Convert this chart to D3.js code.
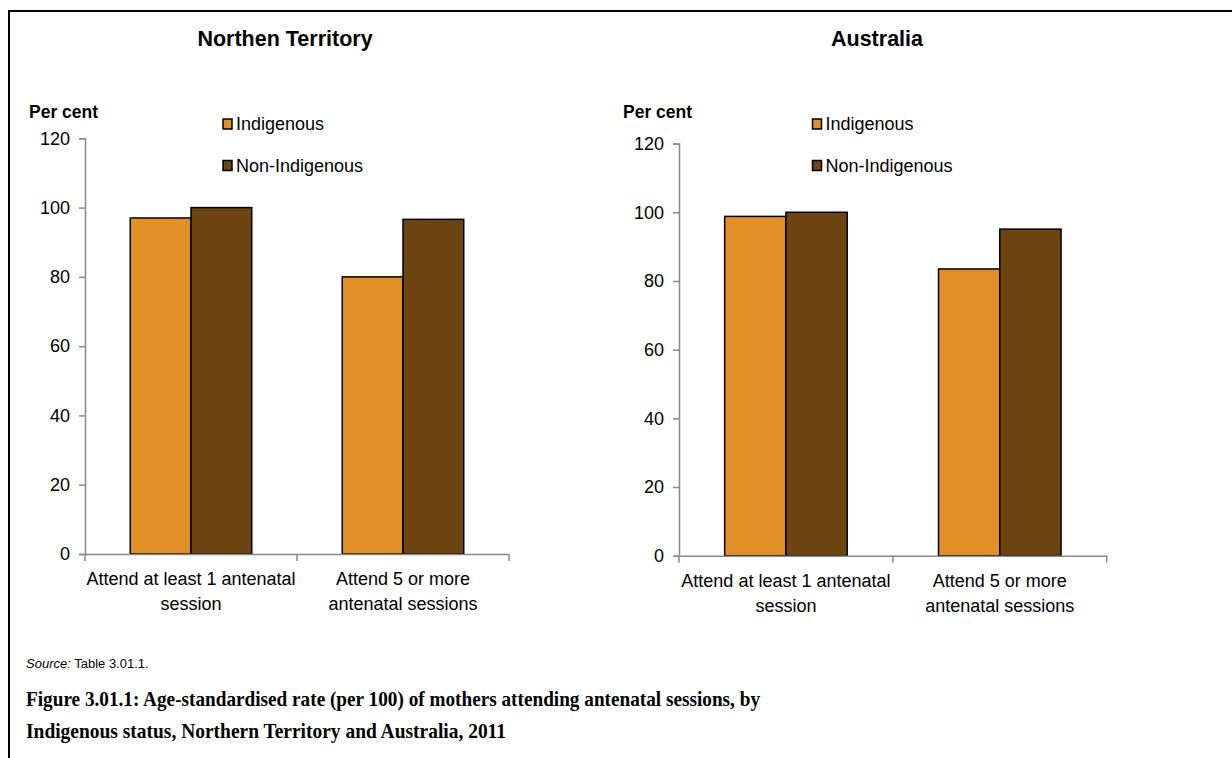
<!DOCTYPE html>
<html>
<head>
<meta charset="utf-8">
<script src="https://cdn.jsdelivr.net/npm/d3@7"></script>
<style>
  html, body { margin: 0; padding: 0; background: #fff; }
  svg { display: block; }
  text { fill: #000; }
</style>
</head>
<body>
<svg id="chart" width="1232" height="758" font-family="'Liberation Sans', Arial, sans-serif"></svg>
<script>
// ---- Data ----
const categories = [["Attend at least 1 antenatal", "session"], ["Attend 5 or more", "antenatal sessions"]];
const categoryKeys = ["Attend at least 1 antenatal session", "Attend 5 or more antenatal sessions"];
const seriesNames = ["Indigenous", "Non-Indigenous"];
const panelTitles = ["Northen Territory", "Australia"];
const ntIndigenous = [97, 80];
const ntNonIndigenous = [100, 96.6];
const ausIndigenous = [98.8, 83.5];
const ausNonIndigenous = [100, 95.1];
const yTicks = [0, 20, 40, 60, 80, 100, 120];
const seriesColors = ["#E18F27", "#6E4511"];

const svg = d3.select("#chart");

// Frame
svg.append("path")
  .attr("d", "M9,760 L9,11 L1240,11")
  .attr("fill", "none").attr("stroke", "#000").attr("stroke-width", 2);

const panels = [
  { title: panelTitles[0], titleX: 285, values: [ntIndigenous, ntNonIndigenous],
    x0: 85, x1: 509, y0: 554, y120: 138.3, perCentX: 29, legendX: 223 },
  { title: panelTitles[1], titleX: 877, values: [ausIndigenous, ausNonIndigenous],
    x0: 679, x1: 1106.7, y0: 555.7, y120: 143.6, perCentX: 623, legendX: 812.5 }
];

panels.forEach(p => {
  const g = svg.append("g");

  g.append("text").attr("x", p.titleX).attr("y", 46)
    .attr("text-anchor", "middle").attr("font-size", 21.5).attr("font-weight", "bold")
    .text(p.title);

  g.append("text").attr("x", p.perCentX).attr("y", 118)
    .attr("font-size", 17.5).attr("font-weight", "bold").text("Per cent");

  const y = d3.scaleLinear().domain([0, 120]).range([p.y0, p.y120]);
  const x = d3.scaleBand().domain(categoryKeys).range([p.x0, p.x1]).paddingInner(0).paddingOuter(0);
  const xs = d3.scaleBand().domain(seriesNames).range([0, x.bandwidth()]).paddingInner(0).paddingOuter(0.745);

  // bars
  seriesNames.forEach((s, si) => {
    g.append("g").selectAll("rect")
      .data(p.values[si])
      .join("rect")
      .attr("x", (d, i) => x(categoryKeys[i]) + xs(s))
      .attr("y", d => y(d))
      .attr("width", xs.bandwidth())
      .attr("height", d => y(0) - y(d))
      .attr("fill", seriesColors[si])
      .attr("stroke", "#000").attr("stroke-width", 1.5);
  });

  // y axis
  const yAxis = d3.axisLeft(y).tickValues(yTicks).tickSize(6).tickPadding(9);
  const ya = g.append("g").attr("transform", `translate(${p.x0},0)`).call(yAxis);
  ya.attr("font-family", null).attr("font-size", null);
  ya.select(".domain").attr("stroke", "#898989").attr("stroke-width", 1.5);
  ya.selectAll(".tick line").attr("stroke", "#898989").attr("stroke-width", 1.5);
  ya.selectAll(".tick text").attr("font-size", 18).attr("fill", "#000");

  // x axis
  const xAxis = d3.axisBottom(x).tickSize(0).tickFormat("");
  const xa = g.append("g").attr("transform", `translate(0,${p.y0})`).call(xAxis);
  xa.select(".domain").attr("stroke", "#898989").attr("stroke-width", 1.5);
  // boundary ticks
  const bounds = [p.x0, p.x0 + x.bandwidth(), p.x1];
  g.append("g").selectAll("line").data(bounds).join("line")
    .attr("x1", d => d).attr("x2", d => d)
    .attr("y1", p.y0).attr("y2", p.y0 + 7)
    .attr("stroke", "#898989").attr("stroke-width", 1.5);

  // category labels
  categoryKeys.forEach((c, i) => {
    const cx = x(c) + x.bandwidth() / 2;
    const t = g.append("text").attr("text-anchor", "middle").attr("font-size", 18)
      .attr("x", cx).attr("y", p.y0 + 31);
    t.append("tspan").attr("x", cx).text(categories[i][0]);
    t.append("tspan").attr("x", cx).attr("dy", 25).text(categories[i][1]);
  });

  // legend
  seriesNames.forEach((s, si) => {
    const ly = 119 + si * 41.5;
    g.append("rect").attr("x", p.legendX).attr("y", ly).attr("width", 9).attr("height", 10)
      .attr("fill", seriesColors[si]).attr("stroke", "#000").attr("stroke-width", 1.5);
    g.append("text").attr("x", p.legendX + 13).attr("y", ly + 11)
      .attr("font-size", 18).text(s);
  });
});

// Source
const src = svg.append("text").attr("x", 26).attr("y", 668).attr("font-size", 13);
src.append("tspan").attr("font-style", "italic").text("Source:");
src.append("tspan").text(" Table 3.01.1.");

// Caption
const capFont = "'Liberation Serif', 'DejaVu Serif', serif";
svg.append("text").attr("x", 26).attr("y", 706).attr("font-size", 21).attr("font-weight", "bold")
  .style("font-family", capFont).attr("textLength", 734).attr("lengthAdjust", "spacingAndGlyphs")
  .text("Figure 3.01.1: Age-standardised rate (per 100) of mothers attending antenatal sessions, by");
svg.append("text").attr("x", 26).attr("y", 738).attr("font-size", 21).attr("font-weight", "bold")
  .style("font-family", capFont).attr("textLength", 480).attr("lengthAdjust", "spacingAndGlyphs")
  .text("Indigenous status, Northern Territory and Australia, 2011");
</script>
</body>
</html>
